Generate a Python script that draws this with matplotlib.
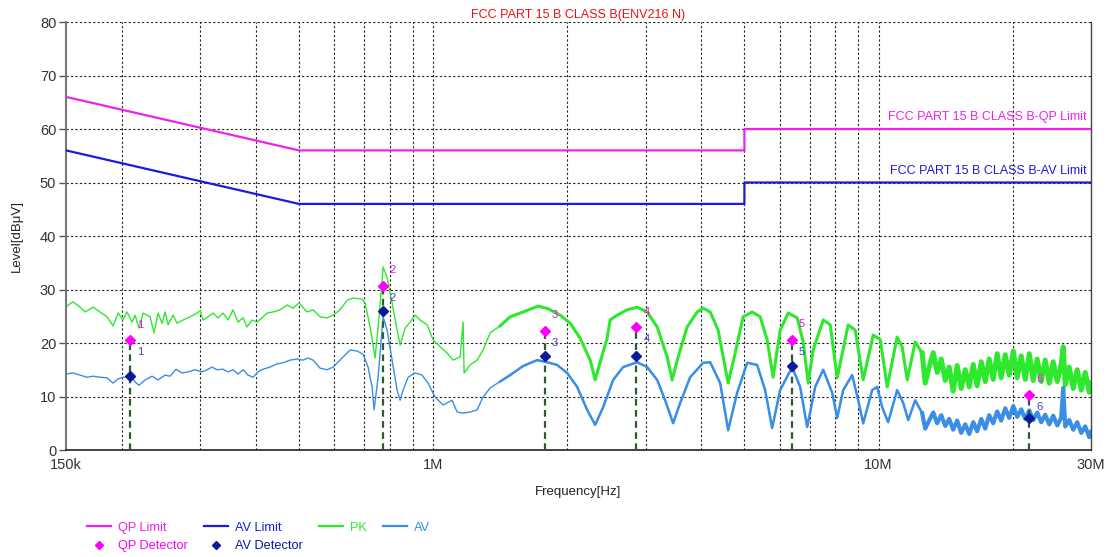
#!/usr/bin/env python3
"""Conducted emission scan, FCC Part 15 B class B (ENV216 N)"""
import numpy as np
import matplotlib
matplotlib.use('Agg')
import matplotlib.pyplot as plt
from matplotlib.lines import Line2D

plt.rcParams['font.family'] = ['Liberation Sans', 'DejaVu Sans']

# Limits (MHz, dBuV)
limit_freq = [0.15, 0.5, 5.0, 5.0, 30.0]
qp_limit = [66, 56, 56, 60, 60]
av_limit = [56, 46, 46, 50, 50]

# Peak trace (MHz, dBuV)
pk_freq = [0.150, 0.1555, 0.1613, 0.1655, 0.1725, 0.1788, 0.1854, 0.1913, 0.1963, 0.2014,
           0.2056, 0.211, 0.2143, 0.2188, 0.2234, 0.2316, 0.2364, 0.2414, 0.2464, 0.2503,
           0.2542, 0.2608, 0.2663, 0.2747, 0.2848, 0.2953, 0.300, 0.3046, 0.3126, 0.3207,
           0.3291, 0.3377, 0.3466, 0.3557, 0.365, 0.3745, 0.3824, 0.3924, 0.4027, 0.4132,
           0.424, 0.4374, 0.4535, 0.4702, 0.485, 0.500, 0.5161, 0.5215, 0.5379, 0.5577,
           0.5783, 0.5965, 0.6184, 0.6412, 0.6614, 0.6929, 0.7037, 0.7222, 0.7411, 0.7566,
           0.7724, 0.7886, 0.8092, 0.8304, 0.8434, 0.8654, 0.8881, 0.9113, 0.9352, 0.9697,
           1.000, 1.037, 1.0753, 1.1092, 1.150, 1.168, 1.1741, 1.2111, 1.2557, 1.2952,
           1.3432, 1.4145, 1.4895, 1.593, 1.7214, 1.8127, 1.9288, 2.0311, 2.1389, 2.2527,
           2.3115, 2.372, 2.4594, 2.4978, 2.5899, 2.7273, 2.872, 3.0245, 3.185, 3.3539,
           3.4415, 3.55, 3.719, 3.9164, 4.04, 4.189, 4.365, 4.597, 4.767, 4.967,
           5.204, 5.424, 5.623, 5.80, 6.015, 6.269, 6.567, 6.774, 6.953, 7.134,
           7.514, 7.791, 8.078, 8.549, 8.865, 9.239, 9.729, 10.09, 10.46, 11.01,
           11.30, 11.60, 12.09, 12.53, 12.73, 12.99, 13.27, 13.54, 13.83, 14.12,
           14.41, 14.71, 15.02, 15.33, 15.66, 15.98, 16.32, 16.65, 17.01, 17.36,
           17.72, 18.09, 18.47, 18.85, 19.25, 19.65, 20.07, 20.48, 20.91, 21.35,
           21.80, 22.25, 22.71, 23.19, 23.67, 24.17, 24.67, 25.19, 25.71, 25.98,
           26.25, 26.80, 27.36, 27.93, 28.52, 29.11, 29.72, 30.0]
pk_level = [26.8, 27.7, 26.7, 25.8, 26.7, 25.8, 24.9, 23.2, 25.6, 24.3,
            25.8, 23.9, 25.2, 22.8, 25.6, 24.9, 21.9, 25.6, 23.7, 25.8,
            23.4, 25.2, 23.7, 24.3, 24.9, 25.6, 26.0, 24.3, 24.9, 25.6,
            24.7, 25.6, 24.3, 26.2, 23.9, 24.7, 23.0, 24.3, 23.9, 24.7,
            25.6, 25.8, 26.2, 27.1, 26.5, 27.5, 26.2, 25.8, 26.2, 24.9,
            24.7, 25.2, 26.2, 28.0, 28.4, 28.2, 27.5, 23.0, 17.2, 24.9,
            34.2, 32.3, 27.5, 22.4, 19.6, 22.8, 23.9, 25.2, 24.3, 23.4,
            20.6, 19.3, 18.1, 16.8, 17.4, 23.9, 14.4, 15.9, 16.8, 18.7,
            21.9, 23.2, 24.9, 25.8, 26.9, 26.4, 25.2, 23.7, 20.9, 16.8,
            13.1, 16.4, 20.9, 24.3, 25.2, 26.2, 26.7, 25.8, 23.0, 17.4,
            13.1, 17.4, 23.0, 25.8, 26.5, 25.8, 22.4, 12.5, 18.1, 24.9,
            25.8, 24.9, 20.6, 13.6, 22.4, 25.6, 24.7, 20.2, 12.5, 18.7,
            24.3, 23.4, 13.5, 23.4, 22.4, 13.1, 21.5, 20.6, 11.8, 21.1,
            19.3, 13.1, 20.2, 18.1, 12.5, 15.5, 18.2, 14.5, 17.0, 13.0,
            15.5, 11.0, 15.8, 11.5, 15.0, 11.8, 16.0, 12.0, 16.5, 12.8,
            17.0, 13.2, 18.0, 13.5, 17.8, 14.0, 18.5, 13.5, 17.6, 13.2,
            18.0, 13.0, 17.0, 12.8, 16.8, 12.5, 16.5, 12.8, 16.0, 19.3,
            12.2, 15.5, 11.5, 15.0, 11.2, 14.5, 10.8, 12.5]

# Average trace (MHz, dBuV)
av_freq = [0.150, 0.1555, 0.1613, 0.1672, 0.1725, 0.1788, 0.1854, 0.1913, 0.1963, 0.2014,
           0.2099, 0.2143, 0.2188, 0.2257, 0.234, 0.2414, 0.2503, 0.2568, 0.2649, 0.2733,
           0.2819, 0.2922, 0.303, 0.311, 0.3191, 0.3274, 0.3377, 0.3466, 0.3557, 0.365,
           0.3745, 0.3843, 0.3944, 0.4047, 0.4154, 0.4307, 0.4466, 0.4606, 0.4776, 0.4952,
           0.5108, 0.5241, 0.5379, 0.5577, 0.5783, 0.5965, 0.6184, 0.6513, 0.6752, 0.6965,
           0.7147, 0.7297, 0.7373, 0.7527, 0.7724, 0.7886, 0.8092, 0.8304, 0.8434, 0.8565,
           0.879, 0.9113, 0.9449, 0.9746, 1.0106, 1.0533, 1.1034, 1.1324, 1.168, 1.2111,
           1.2557, 1.2952, 1.3432, 1.4145, 1.4895, 1.593, 1.7126, 1.8034, 1.8991, 2.0,
           2.106, 2.2178, 2.3115, 2.409, 2.5368, 2.6714, 2.872, 3.0245, 3.185, 3.319,
           3.4595, 3.587, 3.777, 4.04, 4.189, 4.411, 4.597, 4.816, 5.072, 5.34,
           5.565, 5.77, 6.015, 6.399, 6.67, 6.917, 7.209, 7.514, 7.871, 8.078,
           8.331, 8.728, 9.003, 9.239, 9.678, 9.932, 10.19, 10.51, 11.01, 11.36,
           11.66, 12.09, 12.53, 12.73, 12.99, 13.27, 13.54, 13.83, 14.12, 14.41,
           14.71, 15.02, 15.33, 15.66, 15.98, 16.32, 16.65, 17.01, 17.36, 17.72,
           18.09, 18.47, 18.85, 19.25, 19.65, 20.07, 20.48, 20.91, 21.35, 21.80,
           22.25, 22.71, 23.19, 23.67, 24.17, 24.67, 25.19, 25.71, 25.98, 26.25,
           26.80, 27.36, 27.93, 28.52, 29.11, 29.72, 30.0]
av_level = [14.2, 14.4, 14.0, 13.6, 13.8, 13.6, 13.5, 12.5, 13.3, 13.6,
            13.8, 12.7, 12.1, 13.1, 13.8, 13.1, 14.0, 13.8, 15.1, 14.4,
            14.6, 15.0, 14.6, 15.0, 15.5, 15.0, 15.1, 14.6, 15.0, 14.2,
            15.0, 14.0, 13.6, 14.6, 15.1, 15.5, 16.1, 16.3, 16.8, 17.0,
            16.8, 17.2, 16.8, 15.3, 15.0, 15.5, 16.8, 18.7, 18.5, 17.9,
            15.5, 11.8, 7.5, 13.6, 24.9, 22.4, 16.8, 11.2, 9.3, 11.2,
            13.6, 14.4, 14.0, 12.5, 9.9, 8.4, 9.3, 7.1, 6.9, 7.1,
            7.5, 9.9, 11.6, 12.8, 14.0, 15.7, 16.8, 16.4, 15.9, 14.4,
            11.8, 7.5, 4.7, 8.0, 13.1, 15.5, 16.4, 15.5, 13.1, 9.3,
            5.0, 8.8, 13.6, 16.3, 16.4, 12.5, 3.7, 10.7, 16.3, 15.9,
            11.2, 4.1, 11.2, 15.5, 11.8, 4.3, 11.8, 15.0, 10.7, 6.0,
            11.2, 14.0, 9.3, 5.0, 11.2, 11.8, 8.0, 5.2, 11.2, 8.8,
            5.6, 9.3, 6.9, 4.0, 5.5, 7.0, 5.0, 6.5, 4.5, 5.8,
            3.8, 5.5, 3.2, 4.8, 3.0, 5.2, 3.5, 5.8, 4.0, 6.5,
            5.0, 7.2, 5.5, 7.8, 6.0, 8.2, 6.2, 7.6, 5.8, 7.4,
            5.6, 7.0, 5.2, 6.6, 4.8, 6.4, 4.6, 6.0, 11.6, 4.4,
            5.6, 3.8, 5.2, 3.2, 4.4, 2.4, 3.4]

# Final measurements at the marked frequencies
marker_no = ['1', '2', '3', '4', '5', '6']
marker_freq = [0.209, 0.772, 1.78, 2.86, 6.39, 21.8]
qp_value = [20.5, 30.7, 22.3, 22.9, 20.6, 10.3]
av_value = [13.9, 26.0, 17.6, 17.6, 15.7, 6.0]

QP_COL = '#ee22ee'
AVL_COL = '#1a1ae0'
PK_COL = '#2ee82e'
AV_COL = '#3a8ee6'
QPD_COL = '#ff00ff'
AVD_COL = '#0a1a9a'

fig = plt.figure(figsize=(11.08, 5.57), dpi=100)
ax = fig.add_axes([0.0596, 0.1921, 0.9251, 0.7684])

ax.set_xscale('log')
ax.set_xlim(0.15, 30)
ax.set_ylim(0, 80)

# grid
ax.set_yticks(np.arange(0, 81, 10))
grid_x = [0.2, 0.3, 0.4, 0.5, 0.6, 0.7, 0.8, 0.9, 1, 2, 3, 4, 5, 6, 7, 8, 9, 10, 20]
for gx in grid_x:
    ax.axvline(gx, color='#222222', lw=0.8, ls=(0, (2, 2)), zorder=0)
for gy in range(10, 81, 10):
    ax.axhline(gy, color='#222222', lw=0.8, ls=(0, (2, 2)), zorder=0)

# limits
ax.plot(limit_freq, qp_limit, color=QP_COL, lw=1.6, zorder=3)
ax.plot(limit_freq, av_limit, color=AVL_COL, lw=1.6, zorder=3)
ax.annotate('FCC PART 15 B CLASS B-QP Limit', xy=(30, 60), xytext=(-3, 4),
            textcoords='offset points', ha='right', va='bottom', color=QP_COL, fontsize=9)
ax.annotate('FCC PART 15 B CLASS B-AV Limit', xy=(30, 50), xytext=(-3, 4),
            textcoords='offset points', ha='right', va='bottom', color=AVL_COL, fontsize=9)

# traces: thin at low frequency, thicker where the receiver trace gets noisy
pk_f = np.array(pk_freq)
pk_l = np.array(pk_level)
av_f = np.array(av_freq)
av_l = np.array(av_level)
ax.plot(pk_f, pk_l, color=PK_COL, lw=1.0, zorder=2)
ax.plot(av_f, av_l, color=AV_COL, lw=1.0, zorder=2)
hi = pk_f >= 1.4
ax.plot(pk_f[hi], pk_l[hi], color=PK_COL, lw=2.2, zorder=2)
hi = av_f >= 1.4
ax.plot(av_f[hi], av_l[hi], color=AV_COL, lw=1.8, zorder=2)
hi = pk_f >= 12.5
ax.plot(pk_f[hi], pk_l[hi], color=PK_COL, lw=3.6, zorder=2)
hi = av_f >= 12.5
ax.plot(av_f[hi], av_l[hi], color=AV_COL, lw=3.0, zorder=2)

# markers
for n, f, q, a in zip(marker_no, marker_freq, qp_value, av_value):
    ax.plot([f, f], [0, q], color='#2e5a2e', lw=1.6, ls=(0, (3, 2)), zorder=4)
    ax.annotate(n, xy=(f, q), xytext=(5, 9), textcoords='offset points',
                color=QPD_COL, fontsize=8)
    ax.annotate(n, xy=(f, q), xytext=(5, -5), textcoords='offset points',
                color='#4a3ad0', fontsize=8, va='top')
ax.plot(marker_freq, qp_value, ls='none', marker='D', ms=5, color=QPD_COL, zorder=5)
ax.plot(marker_freq, av_value, ls='none', marker='D', ms=5, color=AVD_COL, zorder=5)

# axes cosmetics
ax.set_xticks([0.15, 1, 10, 30])
ax.set_xticklabels(['150k', '1M', '10M', '30M'])
ax.xaxis.set_minor_locator(matplotlib.ticker.NullLocator())
ax.tick_params(axis='x', length=0, pad=6, labelsize=10.5, colors='#333333')
ax.tick_params(axis='y', length=5, width=1, color='#555555', labelsize=10.5,
               labelcolor='#333333', pad=2)
ax.spines['top'].set_visible(False)
ax.spines['left'].set_color('#777777')
ax.spines['left'].set_linewidth(1.5)
ax.spines['bottom'].set_color('#222222')
ax.spines['bottom'].set_linewidth(1.2)
ax.spines['right'].set_color('#444444')
ax.spines['right'].set_linewidth(1.0)

ax.set_xlabel('Frequency[Hz]', fontsize=9.5, color='#222222', labelpad=10)
ax.set_ylabel('Level[dB\u03bcV]', fontsize=9.5, color='#222222', labelpad=12)
ax.set_title('FCC PART 15 B CLASS B(ENV216 N)', color='#ee1111', fontsize=9, pad=3)

# legend
handles = [
    Line2D([], [], color=QP_COL, lw=1.6, label='QP Limit'),
    Line2D([], [], ls='none', marker='D', ms=4, color=QPD_COL, label='QP Detector'),
    Line2D([], [], color=AVL_COL, lw=1.6, label='AV Limit'),
    Line2D([], [], ls='none', marker='D', ms=4, color=AVD_COL, label='AV Detector'),
    Line2D([], [], color=PK_COL, lw=1.6, label='PK'),
    Line2D([], [], color=AV_COL, lw=1.6, label='AV'),
]
leg = fig.legend(handles=handles, ncol=4, loc='lower left', bbox_to_anchor=(0.068, -0.012),
                 frameon=False, fontsize=9.2, handlelength=1.9, columnspacing=1.3,
                 labelspacing=0.5, handletextpad=0.5)
for txt, h in zip(leg.get_texts(), handles):
    txt.set_color(h.get_color())

fig.savefig('out.png', dpi=100)
